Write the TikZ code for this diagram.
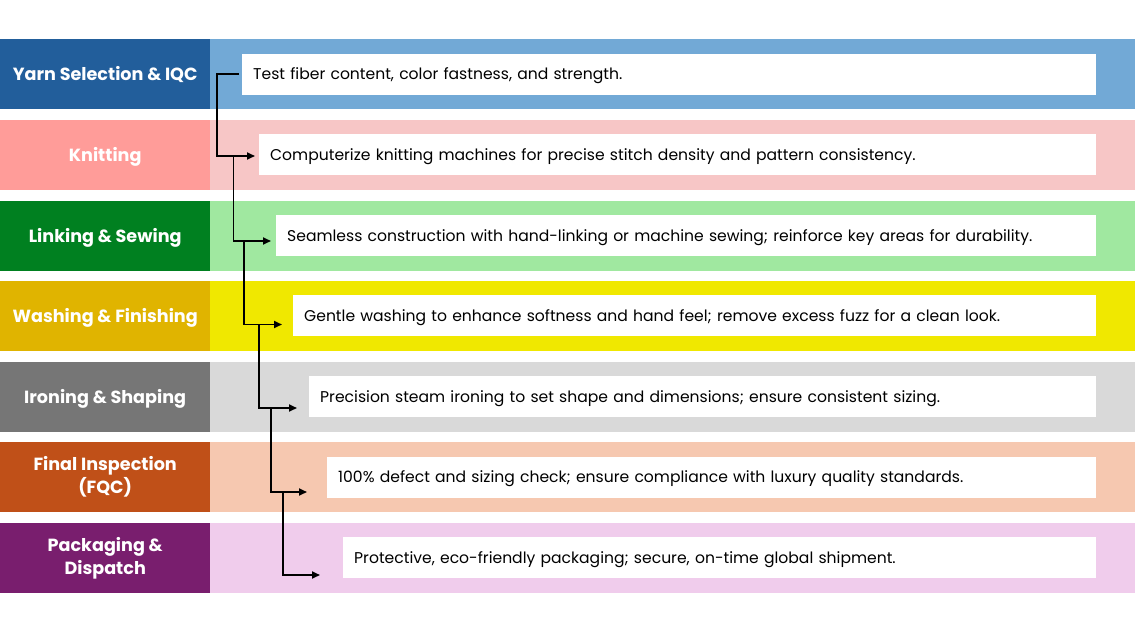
\documentclass[tikz,border=0pt]{standalone}
\usepackage{fontspec}
\setmainfont{Poppins}
\usetikzlibrary{arrows.meta}
\definecolor{l1}{RGB}{34,94,155}\definecolor{b1}{RGB}{114,169,214}
\definecolor{l2}{RGB}{255,156,153}\definecolor{b2}{RGB}{247,198,198}
\definecolor{l3}{RGB}{0,128,32}\definecolor{b3}{RGB}{160,232,160}
\definecolor{l4}{RGB}{224,180,0}\definecolor{b4}{RGB}{240,232,0}
\definecolor{l5}{RGB}{118,118,118}\definecolor{b5}{RGB}{217,217,217}
\definecolor{l6}{RGB}{192,80,24}\definecolor{b6}{RGB}{246,200,176}
\definecolor{l7}{RGB}{121,30,110}\definecolor{b7}{RGB}{240,204,236}
\begin{document}
\begin{tikzpicture}[x=1pt,y=-1pt,
  lab/.style={rectangle, anchor=north west, minimum width=210pt, minimum height=69.5pt, inner sep=0pt, align=center, text=white, font=\fontsize{17.6}{23}\selectfont\bfseries},
  lab1/.style={lab, text height=15.6pt, text depth=3pt},
  band/.style={rectangle, anchor=north west, minimum width=925pt, minimum height=69.5pt, inner sep=0pt},
  desc/.style={rectangle, fill=white, anchor=west, minimum height=41pt, inner xsep=11pt, inner ysep=0pt, text height=14pt, text depth=3pt, align=left, text width=#1, font=\fontsize{15.6}{18}\selectfont},
  conn/.style={line width=1.8pt, -{Triangle[length=8pt,width=7pt]}}
]
\useasboundingbox (0,0) rectangle (1135,621);
% rows
\node[lab1, fill=l1] (L1) at (0,39) {Yarn Selection \& IQC};
\node[band, fill=b1] (B1) at (210,39) {};
\node[lab1, fill=l2] (L2) at (0,120) {Knitting};
\node[band, fill=b2] (B2) at (210,120) {};
\node[lab1, fill=l3] (L3) at (0,201) {Linking \& Sewing};
\node[band, fill=b3] (B3) at (210,201) {};
\node[lab1, fill=l4] (L4) at (0,281) {Washing \& Finishing};
\node[band, fill=b4] (B4) at (210,281) {};
\node[lab1, fill=l5] (L5) at (0,362) {Ironing \& Shaping};
\node[band, fill=b5] (B5) at (210,362) {};
\node[lab, fill=l6] (L6) at (0,442) {Final Inspection\\(FQC)};
\node[band, fill=b6] (B6) at (210,442) {};
\node[lab, fill=l7] (L7) at (0,523) {Packaging \&\\Dispatch};
\node[band, fill=b7] (B7) at (210,523) {};
% description boxes
\node[desc=832pt] (D1) at (242,74.25) {Test fiber content, color fastness, and strength.};
\node[desc=815pt] (D2) at (259,154.75) {Computerize knitting machines for precise stitch density and pattern consistency.};
\node[desc=798pt] (D3) at (276,235.5) {Seamless construction with hand-linking or machine sewing; reinforce key areas for durability.};
\node[desc=781pt] (D4) at (293,315.5) {Gentle washing to enhance softness and hand feel; remove excess fuzz for a clean look.};
\node[desc=765pt] (D5) at (309,396.5) {Precision steam ironing to set shape and dimensions; ensure consistent sizing.};
\node[desc=747pt] (D6) at (327,477) {100\% defect and sizing check; ensure compliance with luxury quality standards.};
\node[desc=731pt] (D7) at (343,557.5) {Protective, eco-friendly packaging; secure, on-time global shipment.};
% connector points
\coordinate (t2) at (255,156);
\coordinate (t3) at (271,241);
\coordinate (t4) at (282,324.5);
\coordinate (t5) at (297,408);
\coordinate (t6) at (307,492);
\coordinate (t7) at (320,575);
\coordinate (s2) at (233.5,156);
\coordinate (s3) at (244,241);
\coordinate (s4) at (259,324.5);
\coordinate (s5) at (271,408);
\coordinate (s6) at (283,492);
\draw[conn] ([xshift=-3pt]D1.west) -- ++(-22,0) |- (t2);
\draw[conn] (s2) |- (t3);
\draw[conn] (s3) |- (t4);
\draw[conn] (s4) |- (t5);
\draw[conn] (s5) |- (t6);
\draw[conn] (s6) |- (t7);
\end{tikzpicture}
\end{document}
